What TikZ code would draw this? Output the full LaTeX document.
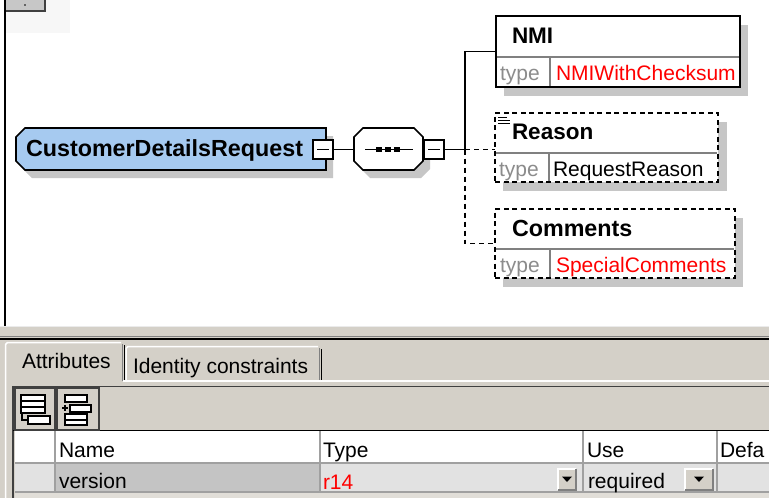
\documentclass[tikz,border=0pt]{standalone}
\usepackage{fontspec}
\setmainfont{Liberation Sans}
\usetikzlibrary{calc}
\definecolor{elblue}{RGB}{166,202,240}
\definecolor{shgray}{RGB}{198,198,198}
\definecolor{divgray}{RGB}{128,128,128}
\definecolor{typegray}{RGB}{140,140,140}
\definecolor{winbg}{RGB}{212,208,200}
\definecolor{cellgray}{RGB}{226,226,226}
\definecolor{selgray}{RGB}{196,196,196}
\definecolor{gridgray}{RGB}{160,160,160}
\definecolor{typered}{RGB}{255,0,0}
\newcommand\txtreg{\fontsize{21}{24}\selectfont}
\newcommand\txtbold{\fontsize{22.5}{26}\selectfont\bfseries}
\newcommand\txtboldbig{\fontsize{23.3}{27}\selectfont\bfseries}
\begin{document}
\begin{tikzpicture}[x=1pt,y=-1pt,
  conn/.style={draw=black,line width=1.6pt},
  dconn/.style={conn,dash pattern=on 5pt off 4pt},
  elbox/.style={draw=black,line width=1.6pt,fill=white,rectangle,inner sep=0pt,outer sep=0pt},
  optbox/.style={elbox,dash pattern=on 5pt off 3.5pt},
  minusbox/.style={draw=black,line width=1.3pt,fill=white,minimum width=20pt,minimum height=19pt,inner sep=0pt,outer sep=0pt,
    path picture={\draw[black,line width=1.3pt] ([xshift=4pt]path picture bounding box.west) -- ([xshift=-4pt]path picture bounding box.east);}},
  anchorbox/.style={draw=none,inner sep=0pt,outer sep=0pt},
  txt/.style={inner sep=0pt,outer sep=0pt,anchor=base west},
  divider/.style={draw=divgray,line width=1.3pt},
  grid/.style={draw=gridgray,line width=1.4pt},
  btn/.style={draw=black!75,line width=1.2pt,fill=winbg},
]
\useasboundingbox (0,0) rectangle (769,498);
\fill[white] (0,0) rectangle (769,498);

% top-left remnants
\fill[black!3] (5,0) rectangle (70,33);
\fill[black!22] (5,0) rectangle (45,11);
\draw[black!75,line width=1.2pt] (5,11) -- (45,11) -- (45,0);
\fill[black] (25,5) circle (0.8);
\draw[black,line width=2pt] (5,0) -- (5,326);

% shadows
\fill[shgray,shift={(7,8)}] (16,137) -- (25,128) -- (326,128) -- (326,170) -- (25,170) -- (16,161) -- cycle;
\fill[shgray,shift={(7,8)}] (354,137) -- (363,128) -- (414,128) -- (423,137) -- (423,161) -- (414,170) -- (363,170) -- (354,161) -- cycle;
\fill[shgray] (504,25) rectangle (748,96);
\fill[shgray] (503,122) rectangle (727,191);
\fill[shgray] (503,218) rectangle (743,287);

% main element and sequence compositor shapes
\draw[fill=elblue,line width=1.6pt,line join=miter] (16,137) -- (25,128) -- (326,128) -- (326,170) -- (25,170) -- (16,161) -- cycle;
\draw[fill=white,line width=1.6pt] (354,137) -- (363,128) -- (414,128) -- (423,137) -- (423,161) -- (414,170) -- (363,170) -- (354,161) -- cycle;

\node[anchorbox,minimum width=310pt,minimum height=42pt] (main) at (171,149) {};
\node[anchorbox,minimum width=69pt,minimum height=42pt] (seq) at (388.5,149.5) {};
\draw[line width=1.5pt] (365,149.5) -- (413,149.5);
\foreach \cx in {379,388,397} \fill[black] (\cx-2.6,147) rectangle (\cx+2.6,152);

\node[minusbox] (m1) at (323,149.5) {};
\node[minusbox] (m2) at (434,149.5) {};

\node[txt] (tmain) at (26,156) {\txtboldbig CustomerDetailsRequest};

% child element boxes
\node[elbox,minimum width=244pt,minimum height=71pt] (nmi) at (618,51.5) {};
\node[optbox,minimum width=223pt,minimum height=69pt] (reason) at (606.5,147.5) {};
\node[optbox,minimum width=240pt,minimum height=69pt] (comm) at (615,243.5) {};

\draw[divider] (497,57) -- (739,57);
\draw[divider] (550,57) -- (550,86);
\draw[divider] (496,153) -- (717,153);
\draw[divider] (549,153) -- (549,181);
\draw[divider] (496,249) -- (734,249);
\draw[divider] (550,249) -- (550,277);

\node[txt] (tnmi) at (512,43) {\txtbold NMI};
\node[txt,text=typegray] (tnmitype) at (500,80) {\txtreg type};
\node[txt,text=typered] (tnmival) at (556,80) {\txtreg NMIWithChecksum};

\draw[black,line width=1pt] (498,117) -- (507,117) (498,120) -- (510,120) (498,123) -- (510,123);
\node[txt] (treason) at (512,139) {\txtbold Reason};
\node[txt,text=typegray] (treasontype) at (499,176) {\txtreg type};
\node[txt] (treasonval) at (553,176) {\txtreg RequestReason};

\node[txt] (tcomm) at (512,236) {\txtboldbig Comments};
\node[txt,text=typegray] (tcommtype) at (500,272) {\txtreg type};
\node[txt,text=typered] (tcommval) at (556,272) {\txtreg SpecialComments};

% connectors
\coordinate (j) at (465,149.5);
\draw[conn] (m1.east) -- (m1.east -| seq.west);
\draw[conn] (m2.east) -- (j);
\draw[conn] (j) |- (nmi.west);
\draw[dconn] (j) -- (j -| reason.west);
\draw[dconn] (j) |- (comm.west);

% ---------- lower panel ----------
\fill[winbg] (0,326) rectangle (769,498);
\draw[black!8,line width=1.5pt] (0,326.5) -- (769,326.5);
\draw[divgray,line width=1pt] (0,336.5) -- (769,336.5);
\draw[black,line width=1.6pt] (0,338.8) -- (769,338.8);

% tabs
\draw[white,line width=1.5pt] (5.5,498) -- (5.5,344.5) -- (7.5,342.5) -- (121,342.5);
\draw[divgray,line width=1.4pt] (122.3,344) -- (122.3,381);
\draw[black,line width=1pt] (124,345) -- (124,381);
\draw[white,line width=1.5pt] (126,381) -- (126,348.5) -- (128,346.5) -- (318,346.5);
\draw[divgray,line width=1.4pt] (319.5,348) -- (319.5,381);
\draw[black,line width=1pt] (321.5,349) -- (321.5,381);
\draw[white,line width=1.5pt] (123,381) -- (769,381);
\node[txt] (tattr) at (22,368) {\txtreg Attributes};
\node[txt] (tident) at (133,373) {\txtreg Identity constraints};

% toolbar
\draw[black!75,line width=1.5pt] (13,498) -- (13,386.5) -- (769,386.5);
\draw[black,line width=1.5pt] (13,430.5) -- (769,430.5);
\draw[btn] (15,388) rectangle (55,430);
\draw[btn] (57,388) rectangle (99,430);
\begin{scope}[draw=black,line width=1.1pt,fill=white]
  \draw[fill=white] (21,395) rectangle (45,401);
  \draw[fill=white] (21,401) rectangle (45,407);
  \draw[fill=white] (21,407) rectangle (45,413);
  \draw[fill=white] (28,416) rectangle (50,424);
  \draw (22,414) -- (22,420) -- (27,420);
  \draw[fill=white] (65,395) rectangle (87,402);
  \draw[fill=white] (70,405) rectangle (91,412);
  \draw[fill=white] (65,414) rectangle (87,420);
  \draw[fill=white] (65,420) rectangle (87,425);
  \draw (62,408) -- (68,408) (65,405) -- (65,411);
\end{scope}

% table
\fill[white] (15,431) rectangle (769,463);
\fill[cellgray] (15,463) rectangle (769,492);
\fill[selgray] (55,463) rectangle (320,492);
\fill[winbg!70!white] (15,492.7) rectangle (769,498);
\draw[grid] (15,463) -- (769,463);
\draw[grid] (15,492) -- (769,492);
\foreach \gx in {55,320,583,717} \draw[grid] (\gx,431) -- (\gx,492);

\node[txt] (hname) at (59,457) {\txtreg Name};
\node[txt] (htype) at (323,457) {\txtreg Type};
\node[txt] (huse) at (587,457) {\txtreg Use};
\node[txt] (hdef) at (720,457) {\txtreg Defa};
\node[txt] (cver) at (59,488) {\txtreg version};
\node[txt,text=typered] (ctype) at (323,489) {\txtreg r14};
\node[txt] (cuse) at (588,488) {\txtreg required};

% dropdown buttons
\foreach \bx/\bw in {558/18,685/28}{
  \fill[winbg] (\bx,469) rectangle (\bx+\bw,490);
  \draw[white,line width=1.2pt] (\bx,490) -- (\bx,469) -- (\bx+\bw,469);
  \draw[divgray,line width=1.2pt] (\bx,490) -- (\bx+\bw,490) -- (\bx+\bw,469);
  \fill[black] (\bx+\bw/2-5,476.5) -- (\bx+\bw/2+5,476.5) -- (\bx+\bw/2,482) -- cycle;
}
\end{tikzpicture}
\end{document}
